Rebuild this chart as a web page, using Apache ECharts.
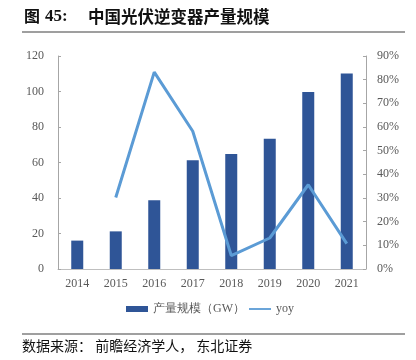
<!DOCTYPE html>
<html><head><meta charset="utf-8">
<script src="https://cdn.jsdelivr.net/npm/echarts@6/dist/echarts.min.js"></script>
<style>html,body{margin:0;padding:0;background:#fff;}#c{width:416px;height:360px;}</style>
</head><body><div id="c"></div>
<script>
const years = ['2014','2015','2016','2017','2018','2019','2020','2021'];
const production = [16, 21.2, 38.8, 61.3, 64.8, 73.4, 99.7, 110.2];
const yoy = [null, 30.2, 83.2, 58.2, 5.7, 13.1, 35.6, 10.7];
const leftTicks = {min: 0, max: 120, interval: 20};
const rightTicks = {min: 0, max: 90, interval: 10};

const chart = echarts.init(document.getElementById('c'), null, {renderer: 'canvas'});
const serif = '"Liberation Serif", "Times New Roman", serif';
const cjk = '"Noto Sans CJK SC", sans-serif';
chart.setOption({
  animation: false,
  backgroundColor: '#fff',
  graphic: [
    {type: 'text', left: 24, top: 8, style: {text: '图', font: 'bold 16px ' + cjk, fill: '#111'}},
    {type: 'text', left: 45, top: 8, style: {text: '45:', font: 'bold 17px ' + serif, fill: '#111'}},
    {type: 'text', left: 88, top: 8, style: {text: '中国光伏逆变器产量规模', font: 'bold 16.5px ' + cjk, fill: '#111'}},
    {type: 'line', shape: {x1: 22, y1: 32, x2: 405, y2: 32}, style: {stroke: '#7f7f7f', lineWidth: 1.5}},
    {type: 'line', shape: {x1: 22, y1: 334, x2: 405, y2: 334}, style: {stroke: '#7f7f7f', lineWidth: 1.5}},
    {type: 'text', left: 22, top: 339, style: {text: '数据来源： 前瞻经济学人， 东北证券', font: '14px ' + cjk, fill: '#111'}}
  ],
  grid: {left: 58, right: 50, top: 56, bottom: 91},
  legend: {
    top: 298, left: 121,
    itemGap: 4, itemTextGap: 4,
    textStyle: {color: '#595959', fontSize: 12, fontFamily: serif},
    data: [
      {name: '产量规模（GW）', icon: 'rect', itemStyle: {color: '#2F5597'}},
      {name: 'yoy', icon: 'path://M0,0L0,0M0,2.1L22,2.1L22,3.9L0,3.9ZM22,6L22,6', itemStyle: {color: '#5B9BD5'}}
    ],
    itemWidth: 22, itemHeight: 6
  },
  xAxis: {
    type: 'category', data: years,
    axisLine: {lineStyle: {color: '#bfbfbf'}},
    axisTick: {show: false},
    axisLabel: {color: '#595959', fontFamily: serif, fontSize: 12, margin: 9}
  },
  yAxis: [
    {type: 'value', min: leftTicks.min, max: leftTicks.max, interval: leftTicks.interval,
     axisLine: {show: true, lineStyle: {color: '#a6a6a6'}},
     axisTick: {show: true, inside: true, length: 3, lineStyle: {color: '#a6a6a6'}},
     splitLine: {show: false},
     axisLabel: {color: '#595959', fontFamily: serif, fontSize: 12, margin: 14}},
    {type: 'value', min: rightTicks.min, max: rightTicks.max, interval: rightTicks.interval, position: 'right',
     axisLine: {show: true, lineStyle: {color: '#a6a6a6'}},
     axisTick: {show: true, inside: true, length: 3, lineStyle: {color: '#a6a6a6'}},
     splitLine: {show: false},
     axisLabel: {color: '#595959', fontFamily: serif, fontSize: 12, margin: 11, formatter: '{value}%'}}
  ],
  series: [
    {name: '产量规模（GW）', type: 'bar', data: production, barWidth: 12,
     itemStyle: {color: '#2F5597'}},
    {name: 'yoy', type: 'line', yAxisIndex: 1, data: yoy, showSymbol: false, symbol: 'none',
     lineStyle: {color: '#5B9BD5', width: 3}, itemStyle: {color: '#5B9BD5'}}
  ]
});
</script></body></html>
